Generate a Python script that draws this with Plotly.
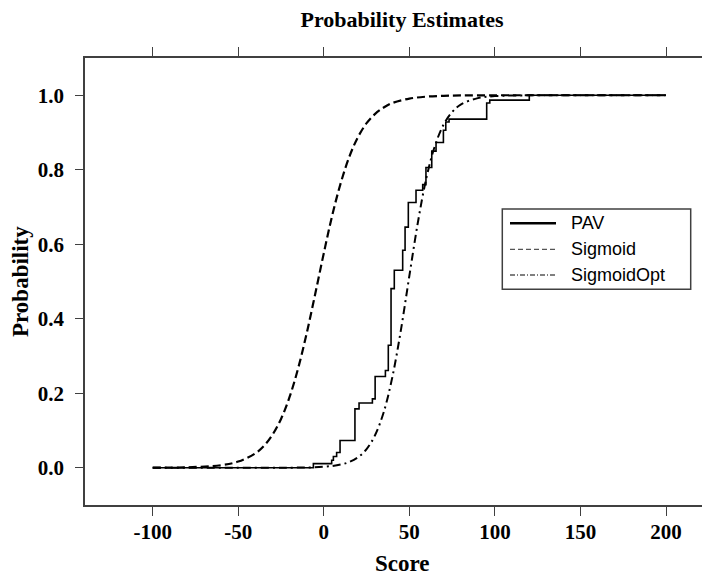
import plotly.graph_objects as go

# ---- data ----
pav_score = [-100, -6.1, 4.6, 5.6, 7.5, 9.5, 18.2, 20.6, 28.4, 30.0, 36.0, 37.7, 39.3,
             41.2, 46.1, 47.5, 49.4, 53.9, 57.8, 59.7, 63.1, 65.6, 69.9, 71.3, 73.2,
             95.2, 97.0, 120.1, 200]
pav_prob = [0.0, 0.011, 0.020, 0.030, 0.041, 0.073, 0.158, 0.174, 0.185, 0.245, 0.261,
            0.329, 0.481, 0.530, 0.584, 0.646, 0.712, 0.745, 0.760, 0.806, 0.850, 0.873,
            0.906, 0.928, 0.936, 0.979, 0.987, 1.0, 1.0]

sig_score = [-100, -80, -60, -50, -40, -35, -30, -25, -20, -15, -10, -5, 0, 5, 10, 15,
             20, 25, 30, 35, 40, 50, 60, 70, 80, 100, 120, 150, 200]
sig_prob = [0.0002, 0.0012, 0.0069, 0.0166, 0.0388, 0.0588, 0.0887, 0.131, 0.190, 0.267,
            0.361, 0.467, 0.576, 0.679, 0.766, 0.836, 0.888, 0.925, 0.950, 0.967, 0.979,
            0.991, 0.9963, 0.9984, 0.9994, 0.9999, 1.0, 1.0, 1.0]

opt_score = [-100, -50, -20, 0, 10, 15, 20, 25, 30, 35, 40, 45, 50, 55, 60, 65, 70, 75,
             80, 90, 100, 120, 150, 200]
opt_prob = [0.0, 0.00001, 0.0002, 0.0026, 0.0087, 0.0157, 0.0282, 0.050, 0.0879, 0.149,
            0.242, 0.368, 0.515, 0.659, 0.779, 0.865, 0.921, 0.955, 0.975, 0.9923,
            0.9977, 0.9998, 1.0, 1.0]

series_names = ["PAV", "Sigmoid", "SigmoidOpt"]
x_ticks = [-100, -50, 0, 50, 100, 150, 200]
x_tick_labels = ["-100", "-50", "0", "50", "100", "150", "200"]
y_ticks = [0.0, 0.2, 0.4, 0.6, 0.8, 1.0]
y_tick_labels = ["0.0", "0.2", "0.4", "0.6", "0.8", "1.0"]

# page body has an 8px offset; size figure so it fits the 710x577 window exactly
W, H = 702, 569
L, T, B = 77, 50, 72
plot_w = W - L
plot_h = H - T - B
PX_PER_UNIT = 1.711
X0_PX = 315.8  # figure pixel of score 0


def px(fx):
    return (fx - L) / plot_w


def py(fy):
    return (H - B - fy) / plot_h


styles = [
    dict(color="black", width=1.6, shape="hv"),
    dict(color="black", width=2.2, dash="8px,4px", shape="spline"),
    dict(color="black", width=2, dash="8px,4px,2px,4px", shape="spline"),
]
data = [(pav_score, pav_prob), (sig_score, sig_prob), (opt_score, opt_prob)]

fig = go.Figure()
for name, (xs, ys), st in zip(series_names, data, styles):
    fig.add_trace(go.Scatter(x=xs, y=ys, mode="lines", name=name, line=st,
                             showlegend=False))

axis_col = "#404040"
serif = "Liberation Serif"

# manual legend (box, line samples, labels)
leg_box = (494.3, 201, 682.7, 281.3)
leg_rows = [215.3, 241.3, 267.0]
leg_line_styles = [
    dict(color="black", width=2.5),
    dict(color="#555555", width=1.2, dash="5px,3px"),
    dict(color="black", width=1.0, dash="5px,2px,1px,2px"),
]
shapes = [dict(type="rect", xref="paper", yref="paper",
               x0=px(leg_box[0]), x1=px(leg_box[2]), y0=py(leg_box[3]), y1=py(leg_box[1]),
               line=dict(color=axis_col, width=1.5), fillcolor="white", layer="above")]
annotations = []
for name, ry, ls in zip(series_names, leg_rows, leg_line_styles):
    shapes.append(dict(type="line", xref="paper", yref="paper", x0=px(502), x1=px(548),
                       y0=py(ry), y1=py(ry), line=ls, layer="above"))
    annotations.append(dict(text=name, xref="paper", yref="paper", x=px(561), y=py(ry),
                            xanchor="left", yanchor="middle", showarrow=False,
                            font=dict(family="Liberation Sans", size=18, color="black")))

annotations += [
    dict(text="Score", xref="paper", yref="paper", x=px(394), y=py(555),
         xanchor="center", yanchor="middle", showarrow=False,
         font=dict(family=serif, size=23, color="black", weight="bold")),
    dict(text="Probability", xref="paper", yref="paper", x=px(12), y=py(274),
         xanchor="center", yanchor="middle", textangle=-90, showarrow=False,
         font=dict(family=serif, size=23, color="black", weight="bold")),
]

fig.update_layout(
    width=W, height=H,
    margin=dict(l=L, r=0, t=T, b=B, pad=0, autoexpand=False),
    plot_bgcolor="white", paper_bgcolor="white",
    showlegend=False,
    title=dict(text="Probability Estimates", xref="container", yref="container",
               x=394 / W, y=1.0 - 4 / H, xanchor="center", yanchor="top",
               pad=dict(t=0, b=0, l=0, r=0),
               font=dict(family=serif, size=22, color="black", weight="bold")),
    xaxis=dict(range=[-(X0_PX - L) / PX_PER_UNIT, (W - X0_PX) / PX_PER_UNIT],
               tickmode="array", tickvals=x_ticks, ticktext=x_tick_labels,
               ticks="outside", ticklen=9, tickwidth=1.3, tickcolor=axis_col,
               showline=True, linecolor=axis_col, linewidth=1.5, mirror="ticks",
               showgrid=False, zeroline=False, ticklabelstandoff=-2, automargin=False,
               tickfont=dict(family=serif, size=21, color="black", weight="bold")),
    yaxis=dict(range=[-0.1, 1.1], tickmode="array", tickvals=y_ticks,
               ticktext=y_tick_labels, ticks="outside", ticklen=8, tickwidth=1.3,
               tickcolor=axis_col, showline=True, linecolor=axis_col, linewidth=1.5,
               mirror=False, showgrid=False, zeroline=False, ticklabelstandoff=7,
               automargin=False,
               tickfont=dict(family=serif, size=21, color="black", weight="bold")),
    shapes=shapes,
    annotations=annotations,
)

fig.write_html("out.html")
